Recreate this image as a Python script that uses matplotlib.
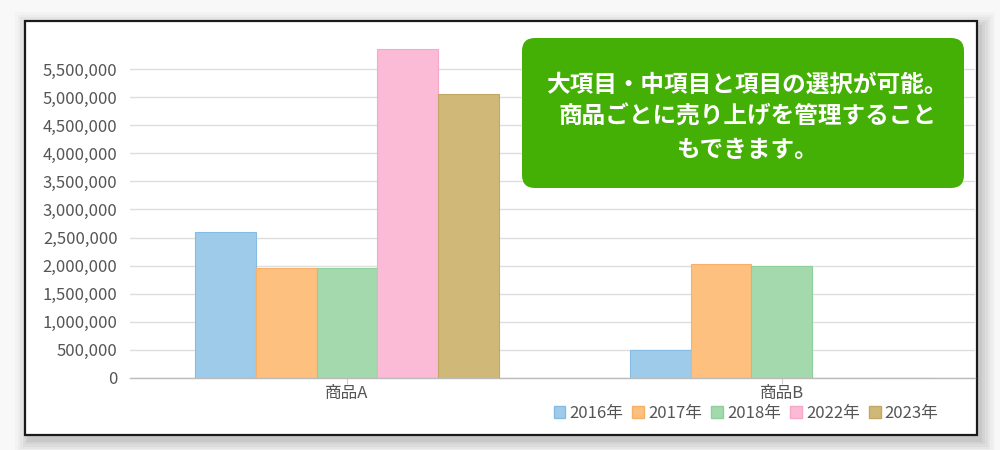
import matplotlib
matplotlib.use("Agg")
import matplotlib.pyplot as plt
from matplotlib.patches import Patch, Rectangle, FancyBboxPatch
from matplotlib.ticker import FuncFormatter

plt.rcParams['font.family'] = ['Noto Sans CJK JP', 'DejaVu Sans']

# ── data ──
categories = ["商品A", "商品B"]
series_names = ["2016年", "2017年", "2018年", "2022年", "2023年"]
values_a = [2600000, 1960000, 1955000, 5860000, 5050000]
values_b = [500000, 2030000, 2000000, 0, 0]
y_ticks = [0, 500000, 1000000, 1500000, 2000000, 2500000, 3000000,
           3500000, 4000000, 4500000, 5000000, 5500000]
callout = "大項目・中項目と項目の選択が可能。\n商品ごとに売り上げを管理すること\nもできます。"

fills = ["#9fcbea", "#fdc07f", "#a3d9ad", "#fbbad5", "#d0b879"]
edges = ["#86bbe3", "#f7b06a", "#8fcf9b", "#f5a9c6", "#c2a865"]

fig = plt.figure(figsize=(10, 4.5), dpi=100)
fig.patch.set_facecolor("#f8f8f8")
inch = fig.dpi_scale_trans

# soft shadow + white frame with black border
for i, a in enumerate([0.02, 0.025, 0.03, 0.035, 0.04, 0.05]):
    d = 0.14 - i * 0.025
    fig.add_artist(Rectangle((0.25 - d + 0.04, 0.15 - d - 0.05), 9.52 + 2 * d, 4.14 + 2 * d,
                             transform=inch, facecolor="#000000", edgecolor="none",
                             alpha=a, zorder=-3))
fig.add_artist(Rectangle((0.25, 0.15), 9.52, 4.14, transform=inch,
                         facecolor="white", edgecolor="#1a1a1a", linewidth=1.6, zorder=-2))

ax = fig.add_axes([0.13, 0.16, 0.845, 0.749])
ax.set_facecolor("none")
ax.set_zorder(1)

n = len(series_names)
w = 0.14
for i in range(n):
    xs = [c + (i - (n - 1) / 2) * w for c in range(len(categories))]
    hs = [values_a[i], values_b[i]]
    ax.bar(xs, hs, width=w, color=fills[i], edgecolor=edges[i], linewidth=0.8, zorder=2)

ax.set_xlim(-0.499, 1.444)
ax.set_ylim(0, 6000000)
ax.set_yticks(y_ticks)
ax.yaxis.set_major_formatter(FuncFormatter(lambda v, p: f"{int(v):,}"))
ax.set_xticks(range(len(categories)))
ax.set_xticklabels(categories)

ax.grid(axis="y", color="#dedede", linewidth=1, zorder=0)
for s in ["top", "right", "left"]:
    ax.spines[s].set_visible(False)
ax.spines["bottom"].set_color("#bbbbbb")
ax.spines["bottom"].set_linewidth(1)
ax.tick_params(axis="y", length=0, pad=9, labelsize=12, labelcolor="#555555")
ax.tick_params(axis="x", length=4, color="#cccccc", pad=1, labelsize=12, labelcolor="#555555")

handles = [Patch(facecolor=fills[i], edgecolor=edges[i], label=series_names[i]) for i in range(n)]
fig.legend(handles=handles, loc="center", bbox_to_anchor=(0.746, 0.082), ncol=5,
           frameon=False, fontsize=12, handlelength=0.7, handleheight=0.7,
           handletextpad=0.25, columnspacing=0.55, labelcolor="#555555")

# green callout box
fig.add_artist(FancyBboxPatch((5.22, 2.62), 4.42, 1.50, transform=inch,
                              boxstyle="round,pad=0,rounding_size=0.13",
                              facecolor="#44af05", edgecolor="none", zorder=5))
fig.text(7.47, 3.33, callout, transform=inch, ha="center", va="center",
         color="white", fontsize=17, fontweight="bold", linespacing=1.45, zorder=6)

fig.savefig("out.png", dpi=100, facecolor=fig.get_facecolor())
